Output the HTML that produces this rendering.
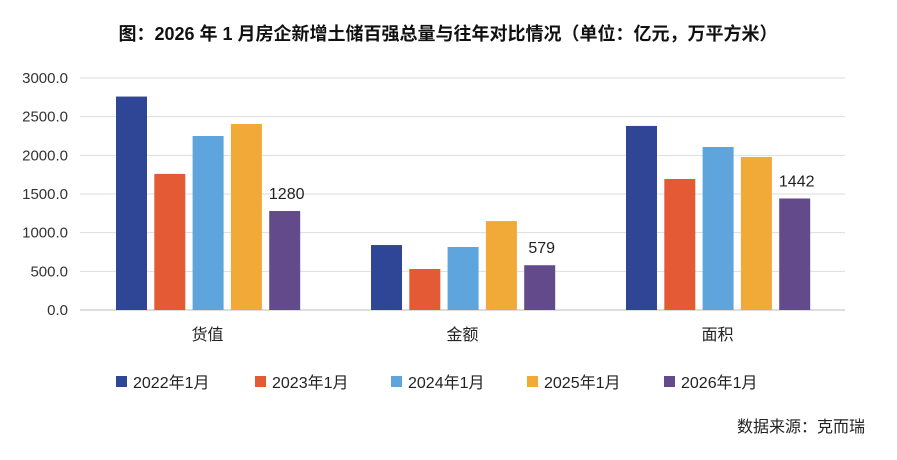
<!DOCTYPE html>
<html><head><meta charset="utf-8"><style>
body{margin:0;background:#fff;width:897px;height:455px;overflow:hidden;font-family:"Liberation Sans","Noto Sans CJK SC",sans-serif}
</style></head><body>
<svg id="c" width="897" height="455" xmlns="http://www.w3.org/2000/svg">
<text x="448" y="40" text-anchor="middle" font-size="18" font-weight="bold" fill="#111" font-family="Liberation Sans,Noto Sans CJK SC,sans-serif">图：2026 年 1 月房企新增土储百强总量与往年对比情况（单位：亿元，万平方米）</text>
<g id="grid"></g><g id="bars"></g><g id="legend"></g>
<text x="865" y="432" text-anchor="end" font-size="16" fill="#222" font-family="Liberation Sans,Noto Sans CJK SC,sans-serif">数据来源：克而瑞</text>
</svg>
<script>
const categories=["货值","金额","面积"];
const seriesNames=["2022年1月","2023年1月","2024年1月","2025年1月","2026年1月"];
const colors=["#2F4596","#E35A35","#5DA5DC","#F1A937","#634B8B"];
const v2022=[2760,840,2380];
const v2023=[1760,530,1694];
const v2024=[2250,815,2108];
const v2025=[2405,1150,1978];
const v2026=[1280,579,1442];
const labels2026=["1280","579","1442"];
const yTicks=[0,500,1000,1500,2000,2500,3000];
const series=[v2022,v2023,v2024,v2025,v2026];
const NS="http://www.w3.org/2000/svg";
const x0=80,x1=845,y0=310,y1=78,ymax=3000;
const y=v=>y0-(v/ymax)*(y0-y1);
const gw=(x1-x0)/categories.length, bw=31, step=38.3;
function mk(t,a,p){const e=document.createElementNS(NS,t);for(const k in a)e.setAttribute(k,a[k]);p.appendChild(e);return e;}
const grid=document.getElementById('grid'),bars=document.getElementById('bars'),leg=document.getElementById('legend');
yTicks.forEach(t=>{
 const l=mk('line',{x1:x0,x2:x1,y1:y(t),y2:y(t),stroke:t===0?'#bbb':'#ddd','stroke-width':1},grid);
 
 
 const tx=mk('text',{x:68,y:y(t)+5,'text-anchor':'end','font-size':15,fill:'#333'},grid);
 tx.textContent=t.toFixed(1);
 
 
});
categories.forEach((c,i)=>{
 const gx=x0+i*gw, bx0=gx+36;
 series.forEach((s,j)=>{
  const r=mk('rect',{x:bx0+j*step,y:y(s[i]),width:bw,height:y0-y(s[i]),fill:colors[j]},bars);
  
  
 });
 const lb=mk('text',{x:bx0+4*step+bw/2+2,y:y(v2026[i])-12,'text-anchor':'middle','font-size':16,fill:'#222'},bars);
 lb.textContent=labels2026[i];
 
 
 const cl=mk('text',{x:gx+gw/2,y:340,'text-anchor':'middle','font-size':16,fill:'#222'},bars);
 cl.textContent=c;
 
 
});
const lx=[116,255,391,527,664];
seriesNames.forEach((n,j)=>{
 const r=mk('rect',{x:lx[j],y:376,width:11,height:11,fill:colors[j]},leg);
 
 
 const t=mk('text',{x:lx[j]+17,y:388,'font-size':16,fill:'#222'},leg);
 t.textContent=n;
 
 
});
</script>
</body></html>
